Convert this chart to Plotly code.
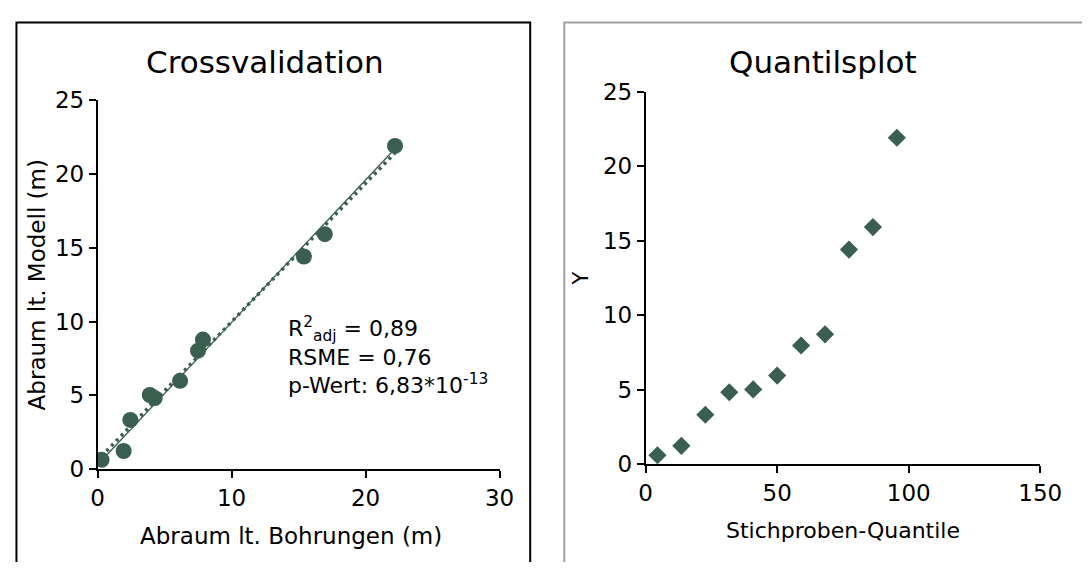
import numpy as np
import plotly.graph_objects as go

# ---- data ----
bohrungen = [0.3, 1.95, 2.45, 3.9, 4.27, 6.16, 7.5, 7.87, 15.4, 16.96, 22.2]
modell = [0.65, 1.24, 3.34, 5.03, 4.82, 5.99, 8.03, 8.78, 14.4, 15.91, 21.88]

ref_line_x = [0.3, 22.0]
ref_line_y = [0.6, 21.5]

quantile_x = [4.5, 13.6, 22.7, 31.8, 40.9, 50.0, 59.1, 68.2, 77.3, 86.4, 95.5]
quantile_y = [0.6, 1.23, 3.32, 4.83, 5.02, 5.95, 7.97, 8.72, 14.41, 15.92, 21.92]

left_xticks = [0, 10, 20, 30]
left_yticks = [0, 5, 10, 15, 20, 25]
right_xticks = [0, 50, 100, 150]
right_yticks = [0, 5, 10, 15, 20, 25]

stats_text = "R<sup>2</sup><sub>adj</sub> = 0,89<br>RSME = 0,76<br>p-Wert: 6,83*10<sup>-13</sup>"

# ---- styling ----
# page body keeps an 8px margin, so the figure is drawn 16px smaller and
# all positions below are given in window pixels, shifted by OFF.
WIN_W, WIN_H = 1090, 570
OFF = 8
FW, FH = WIN_W - 2 * OFF, WIN_H - 2 * OFF
GREEN = "#3a5e4f"
FONT = "DejaVu Sans, Verdana, sans-serif"
NB = "\u00a0"


def px(x):
    return (x - OFF) / FW


def py(y):
    return 1 - (y - OFF) / FH


# linear trendline (Excel style) from the data
slope, intercept = np.polyfit(bohrungen, modell, 1)
trend_x = [min(bohrungen), max(bohrungen)]
trend_y = [slope * v + intercept for v in trend_x]

fig = go.Figure()

fig.add_trace(go.Scatter(x=ref_line_x, y=ref_line_y, mode="lines",
                         line=dict(color=GREEN, width=1.3),
                         xaxis="x", yaxis="y", showlegend=False, hoverinfo="skip"))
fig.add_trace(go.Scatter(x=trend_x, y=trend_y, mode="lines",
                         line=dict(color=GREEN, width=3.5, dash="3px,4px"),
                         xaxis="x", yaxis="y", showlegend=False, hoverinfo="skip"))
fig.add_trace(go.Scatter(x=bohrungen, y=modell, mode="markers",
                         marker=dict(color=GREEN, size=16, symbol="circle"),
                         xaxis="x", yaxis="y", showlegend=False))
fig.add_trace(go.Scatter(x=quantile_x, y=quantile_y, mode="markers",
                         marker=dict(color=GREEN, size=14, symbol="diamond"),
                         xaxis="x2", yaxis="y2", showlegend=False))

axis_common = dict(showline=True, linecolor="black", linewidth=1.5,
                   ticks="outside", ticklen=7, tickwidth=1.5, tickcolor="black",
                   showgrid=False, zeroline=False,
                   tickfont=dict(family=FONT, size=23, color="black"))

fig.update_layout(
    width=FW, height=FH,
    margin=dict(l=0, r=0, t=0, b=0),
    paper_bgcolor="white", plot_bgcolor="white",
    font=dict(family=FONT, color="black"),
    xaxis=dict(domain=[px(92.8), px(506)], range=[0, 30], tickvals=left_xticks,
               anchor="y", **axis_common),
    yaxis=dict(domain=[py(478.4), py(90.7)], range=[0, 25], tickvals=left_yticks,
               anchor="x", ticksuffix=NB * 2, **axis_common),
    xaxis2=dict(domain=[px(656.1), px(1061.7)], range=[0, 150], tickvals=right_xticks,
                anchor="y2", **axis_common),
    yaxis2=dict(domain=[py(473), py(82.4)], range=[0, 25], tickvals=right_yticks,
                anchor="x2", ticksuffix=NB * 2, **axis_common),
)

# panel frames
fig.add_shape(type="rect", xref="paper", yref="paper",
              x0=px(9.5), x1=px(537.5), y0=py(WIN_H + 30), y1=py(9.5),
              line=dict(color="black", width=2), layer="below")
fig.add_shape(type="rect", xref="paper", yref="paper",
              x0=px(572.5), x1=px(WIN_W + 30), y0=py(WIN_H + 30), y1=py(9.5),
              line=dict(color="#a0a0a0", width=2), layer="below")

ann = []
ann.append(dict(text="Crossvalidation", x=px(265), y=py(51), font=dict(size=31)))
ann.append(dict(text="Quantilsplot", x=px(838), y=py(51), font=dict(size=31)))
ann.append(dict(text="Abraum lt. Bohrungen (m)", x=px(292), y=py(548), font=dict(size=23)))
ann.append(dict(text="Abraum lt. Modell (m)", x=px(31), y=py(285), font=dict(size=23), textangle=-90))
ann.append(dict(text="Stichproben-Quantile", x=px(859), y=py(543), font=dict(size=22)))
ann.append(dict(text="Y", x=px(590), y=py(278), font=dict(size=21), textangle=-90))
for a in ann:
    a.update(xref="paper", yref="paper", showarrow=False, xanchor="center", yanchor="middle")
    a["font"].update(family=FONT, color="black")
    fig.add_annotation(**a)

fig.add_annotation(text=stats_text, xref="paper", yref="paper", x=px(287), y=py(359),
                   xanchor="left", yanchor="middle", align="left", showarrow=False,
                   font=dict(family=FONT, size=22, color="black"))

fig.write_html("out.html")
